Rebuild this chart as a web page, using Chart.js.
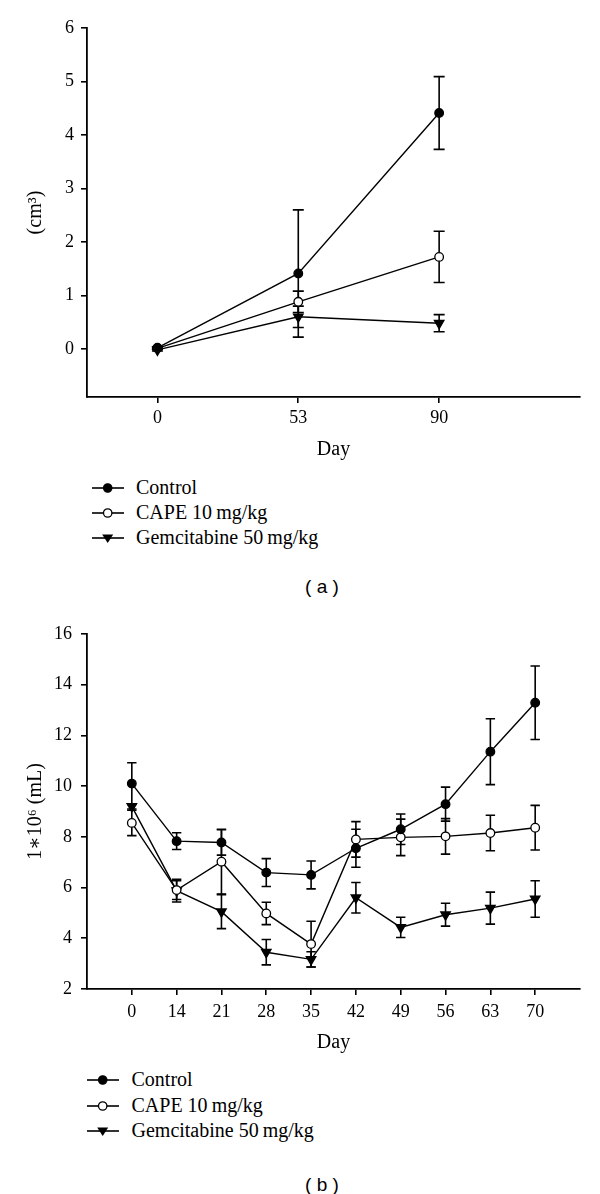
<!DOCTYPE html>
<html>
<head>
<meta charset="utf-8">
<script src="https://cdn.jsdelivr.net/npm/chart.js@4.4.0/dist/chart.umd.min.js"></script>
<style>
body { margin: 0; background: #fff; }
#page { position: relative; width: 600px; height: 1194px; font-family: 'Liberation Serif', 'DejaVu Serif', serif; color: #000; }
canvas { position: absolute; left: 0; }
.lg { position: absolute; }
.lg span { position: absolute; font-size: 20px; line-height: 24px; white-space: nowrap; }
.lg svg { position: absolute; }
.panel { position: absolute; width: 100px; text-align: center; font-family: 'Liberation Sans', Arial, sans-serif; font-size: 19px; line-height: 24px; }
</style>
</head>
<body>
<div id="page">
  <canvas id="chartA" width="600" height="470" style="top:0"></canvas>
  <canvas id="chartB" width="600" height="460" style="top:600px"></canvas>
  <div id="legendA" class="lg"></div>
  <div id="legendB" class="lg"></div>
  <div class="panel" style="left:272px; top:575px">( a )</div>
  <div class="panel" style="left:272px; top:1173px">( b )</div>
</div>
<script>
// panel (a): tumour volume
const daysA = ['0', '53', '90'];
const controlA = [0.02, 1.41, 4.41];
const controlErrA = [0.02, 1.19, 0.68];
const capeA = [0.01, 0.88, 1.72];
const capeErrA = [0.02, 0.2, 0.48];
const gemA = [-0.02, 0.6, 0.48];
const gemErrA = [0.02, 0.2, 0.16];
const yTicksA = [0, 1, 2, 3, 4, 5, 6];

// panel (b): cell count
const daysB = ['0', '14', '21', '28', '35', '42', '49', '56', '63', '70'];
const controlB = [10.1, 7.83, 7.78, 6.59, 6.5, 7.55, 8.3, 9.29, 11.36, 13.29];
const controlErrB = [0.82, 0.33, 0.5, 0.55, 0.55, 0.75, 0.6, 0.67, 1.3, 1.45];
const capeB = [8.55, 5.9, 7.02, 4.98, 3.77, 7.9, 7.98, 8.02, 8.15, 8.36];
const capeErrB = [0.5, 0.37, 1.28, 0.44, 0.9, 0.7, 0.72, 0.7, 0.7, 0.88];
const gemB = [9.2, 5.88, 5.05, 3.45, 3.17, 5.6, 4.43, 4.93, 5.19, 5.55];
const gemErrB = [0.1, 0.45, 0.67, 0.5, 0.3, 0.6, 0.4, 0.45, 0.63, 0.72];
const yTicksB = [2, 4, 6, 8, 10, 12, 14, 16];

const seriesNames = ['Control', 'CAPE 10\u2009mg/kg', 'Gemcitabine 50\u2009mg/kg'];
const fontFamily = "'Liberation Serif', 'DejaVu Serif', serif";

const errorBars = {
    id: 'errorBars',
    beforeDatasetsDraw(chart, args, opts) {
        const ctx = chart.ctx;
        const xs = chart.scales.x, ys = chart.scales.y;
        const cap = opts.cap || 5;
        ctx.save();
        ctx.strokeStyle = '#000';
        ctx.lineWidth = 1.6;
        chart.data.datasets.forEach(ds => {
            ds.errors.forEach((e, j) => {
                const pt = ds.data[j];
                const x = xs.getPixelForValue(pt.x);
                const top = ys.getPixelForValue(pt.y + e);
                const bot = ys.getPixelForValue(pt.y - e);
                ctx.beginPath();
                ctx.moveTo(x, top); ctx.lineTo(x, bot);
                ctx.moveTo(x - cap, top); ctx.lineTo(x + cap, top);
                ctx.moveTo(x - cap, bot); ctx.lineTo(x + cap, bot);
                ctx.stroke();
            });
        });
        ctx.restore();
    }
};

function toPoints(values) {
    return values.map((v, i) => ({ x: i, y: v }));
}

function makeDatasets(ctrl, ctrlErr, cape, capeErr, gem, gemErr) {
    const base = { borderColor: '#000', borderWidth: 1.4, pointBorderColor: '#000', pointBorderWidth: 1.3, tension: 0 };
    return [
        Object.assign({}, base, { label: seriesNames[0], data: toPoints(ctrl), errors: ctrlErr,
            pointStyle: 'circle', pointRadius: 4.3, pointBackgroundColor: '#000' }),
        Object.assign({}, base, { label: seriesNames[1], data: toPoints(cape), errors: capeErr,
            pointStyle: 'circle', pointRadius: 4.3, pointBackgroundColor: '#fff' }),
        Object.assign({}, base, { label: seriesNames[2], data: toPoints(gem), errors: gemErr,
            pointStyle: 'triangle', pointRotation: 180, pointRadius: 5.5, pointBackgroundColor: '#000' })
    ];
}

function makeChart(id, labels, datasets, yOpts, xOpts, cap) {
    new Chart(document.getElementById(id), {
        type: 'line',
        data: { datasets: datasets },
        plugins: [errorBars],
        options: {
            responsive: false,
            animation: false,
            devicePixelRatio: 1,
            layout: { padding: yOpts.layoutPadding },
            plugins: {
                legend: { display: false },
                tooltip: { enabled: false },
                errorBars: { cap: cap }
            },
            scales: {
                x: {
                    type: 'linear',
                    min: xOpts.min,
                    max: xOpts.max,
                    afterBuildTicks: a => { a.ticks = labels.map((l, i) => ({ value: i })); },
                    afterFit: a => { a.height = xOpts.height; },
                    ticks: {
                        color: '#000',
                        font: { family: fontFamily, size: 18 },
                        padding: xOpts.tickPad,
                        maxRotation: 0,
                        callback: v => labels[v]
                    },
                    grid: { drawOnChartArea: false, drawTicks: true, tickLength: 6, color: '#000', lineWidth: 1.6 },
                    border: { display: true, color: '#000', width: 1.8 },
                    title: { display: true, text: 'Day', color: '#000', font: { family: fontFamily, size: 20 }, padding: { top: 0, bottom: 0 } }
                },
                y: {
                    min: yOpts.min,
                    max: yOpts.max,
                    afterBuildTicks: a => { a.ticks = yOpts.ticks.map(v => ({ value: v })); },
                    afterFit: a => { a.width = 87; },
                    ticks: {
                        color: '#000',
                        font: { family: fontFamily, size: 18 },
                        padding: yOpts.tickPad
                    },
                    grid: { drawOnChartArea: false, drawTicks: true, tickLength: 6, color: '#000', lineWidth: 1.6 },
                    border: { display: true, color: '#000', width: 1.8 },
                    title: { display: true, text: yOpts.title, color: '#000', font: { family: fontFamily, size: 20 }, padding: { top: 24, bottom: 0 } }
                }
            }
        }
    });
}

makeChart('chartA', daysA,
    makeDatasets(controlA, controlErrA, capeA, capeErrA, gemA, gemErrA),
    { min: -0.9, max: 6, ticks: yTicksA, title: '(cm\u00B3)', tickPad: 7, layoutPadding: { left: 0, right: 20, top: 28, bottom: 8 } },
    { min: -0.5, max: 3, height: 65, tickPad: 4 }, 5.5);

makeChart('chartB', daysB,
    makeDatasets(controlB, controlErrB, capeB, capeErrB, gemB, gemErrB),
    { min: 2, max: 16, ticks: yTicksB, title: '1\u221710\u2076 (mL)', tickPad: 9, layoutPadding: { left: 0, right: 20, top: 34, bottom: 5 } },
    { min: -1, max: 10, height: 66, tickPad: 6 }, 4.7);

// html legends with line + marker icons
function markerSvg(kind) {
    let m;
    if (kind === 0) m = '<circle cx="17.7" cy="12" r="4.2" fill="#000" stroke="#000" stroke-width="1.2"/>';
    else if (kind === 1) m = '<circle cx="17.7" cy="12" r="4.2" fill="#fff" stroke="#000" stroke-width="1.3"/>';
    else m = '<polygon points="12.2,8.5 23.2,8.5 17.7,17" fill="#000"/>';
    return '<svg width="36" height="24"><line x1="2" y1="12" x2="34" y2="12" stroke="#000" stroke-width="1.6"/>' + m + '</svg>';
}

function buildLegend(id, left, textLeft, centers) {
    const el = document.getElementById(id);
    let html = '';
    seriesNames.forEach((name, i) => {
        html += '<div style="position:absolute;left:' + left + 'px;top:' + (centers[i] - 12) + 'px">' + markerSvg(i) + '</div>';
        html += '<span style="left:' + textLeft + 'px;top:' + (centers[i] - 13) + 'px">' + name + '</span>';
    });
    el.innerHTML = html;
}

buildLegend('legendA', 90, 136, [488, 513, 538]);
buildLegend('legendB', 85, 131.5, [1080, 1105.5, 1131]);
</script>
</body>
</html>
